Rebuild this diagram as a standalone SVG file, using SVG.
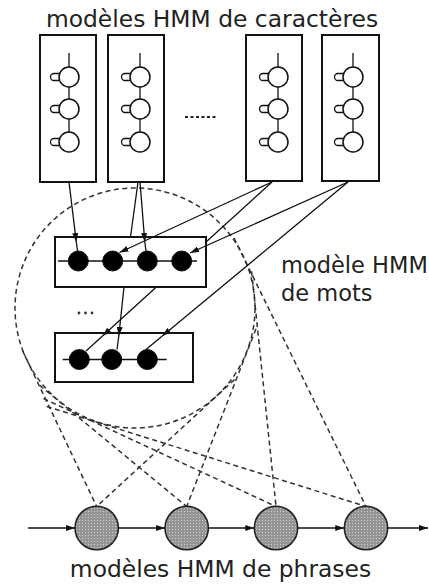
<svg xmlns="http://www.w3.org/2000/svg" xmlns:xlink="http://www.w3.org/1999/xlink" width="429" height="585" viewBox="0 0 429 585">
  <style>
    .lbl { font-family: "DejaVu Sans", "Liberation Sans", sans-serif; fill: #222; }
    .box { fill: #fff; stroke: #111; stroke-width: 2; }
    .ln { fill: none; stroke: #111; stroke-width: 1.3; }
    .arr { fill: none; stroke: #111; stroke-width: 1.3; marker-end: url(#ah); }
    .st { fill: #fff; stroke: #111; stroke-width: 1.5; }
    .wst { fill: #000; stroke: #111; stroke-width: 1; }
    .dash { fill: none; stroke: #333; stroke-width: 1.5; stroke-dasharray: 5 3.5; }
    .sst { fill: url(#stipple); stroke: #222; stroke-width: 1.6; }
    .dot { fill: #333; }
  </style>
  <defs>
    <marker id="ah" viewBox="0 0 10 10" refX="10" refY="5" markerWidth="9" markerHeight="6" orient="auto" markerUnits="userSpaceOnUse" preserveAspectRatio="none">
      <path d="M0,0 L10,5 L0,10 z" fill="#111"/>
    </marker>
    <pattern id="stipple" width="3" height="3" patternUnits="userSpaceOnUse">
      <rect width="3" height="3" fill="#959595"/>
      <rect x="1" y="1" width="1" height="1" fill="#cfcfcf"/>
    </pattern>
    <!-- three-state left-to-right character model, centred on x=0 -->
    <g id="charStates">
      <line class="ln" x1="0" y1="53" x2="0" y2="67"/>
      <line class="ln" x1="0" y1="87" x2="0" y2="99"/>
      <line class="ln" x1="0" y1="119" x2="0" y2="132"/>
      <circle class="st" cx="0" cy="77" r="10"/>
      <circle class="st" cx="0" cy="109" r="10"/>
      <circle class="st" cx="0" cy="142" r="10"/>
      <path class="ln" d="M-9.5,73.5 H-15 A3.5,3.5 0 0 0 -15,80.5 H-9.5"/>
      <path class="ln" d="M-9.5,105.5 H-15 A3.5,3.5 0 0 0 -15,112.5 H-9.5"/>
      <path class="ln" d="M-9.5,138.5 H-15 A3.5,3.5 0 0 0 -15,145.5 H-9.5"/>
    </g>
  </defs>

  <rect width="429" height="585" fill="#fff"/>

  <!-- titles -->
  <text class="lbl" x="212" y="27" font-size="23.4" text-anchor="middle">modèles HMM de caractères</text>
  <text class="lbl" x="281" y="273" font-size="22.5">modèle HMM</text>
  <text class="lbl" x="281" y="301" font-size="22.5">de mots</text>
  <text class="lbl" x="220.5" y="577" font-size="23.4" text-anchor="middle">modèles HMM de phrases</text>

  <!-- word-level grouping and its projection onto the sentence states -->
  <g id="word-scope">
    <circle class="dash" cx="135" cy="308" r="120"/>
    <line class="dash" x1="22.7" y1="351" x2="96.7" y2="506.5"/>
    <line class="dash" x1="234.5" y1="379.6" x2="96.7" y2="506.5"/>
    <line class="dash" x1="39.5" y1="385.2" x2="186.7" y2="506.5"/>
    <line class="dash" x1="256" y1="328.8" x2="186.7" y2="506.5"/>
    <line class="dash" x1="43.5" y1="398.6" x2="276" y2="506.5"/>
    <line class="dash" x1="251.6" y1="271.4" x2="276" y2="506.5"/>
    <line class="dash" x1="46.8" y1="406.5" x2="366" y2="506.5"/>
    <line class="dash" x1="233.9" y1="237.8" x2="366" y2="506.5"/>
  </g>

  <!-- character models -->
  <g id="char-hmm-1">
    <rect class="box" x="40" y="35" width="56" height="147"/>
    <use xlink:href="#charStates" transform="translate(69,0)"/>
  </g>
  <g id="char-hmm-2">
    <rect class="box" x="108" y="35" width="56" height="147"/>
    <use xlink:href="#charStates" transform="translate(140,0)"/>
  </g>
  <g id="char-ellipsis">
    <line x1="185" y1="117" x2="218" y2="117" stroke="#222" stroke-width="2" stroke-dasharray="3 2.5"/>
  </g>
  <g id="char-hmm-3">
    <rect class="box" x="246" y="35" width="56" height="146"/>
    <use xlink:href="#charStates" transform="translate(278,0)"/>
  </g>
  <g id="char-hmm-4">
    <rect class="box" x="322" y="35" width="57" height="146"/>
    <use xlink:href="#charStates" transform="translate(353,0)"/>
  </g>

  <!-- word models -->
  <g id="word-hmm-1">
    <rect class="box" x="55" y="237" width="151" height="50"/>
    <line class="ln" x1="58" y1="261" x2="197" y2="261"/>
    <circle class="wst" cx="78.3" cy="261" r="10"/>
    <circle class="wst" cx="112.7" cy="261" r="10"/>
    <circle class="wst" cx="147.3" cy="261" r="10"/>
    <circle class="wst" cx="181.7" cy="261" r="10"/>
  </g>
  <g id="word-ellipsis">
    <circle class="dot" cx="79" cy="313" r="1.4"/>
    <circle class="dot" cx="85.5" cy="313" r="1.4"/>
    <circle class="dot" cx="92" cy="313" r="1.4"/>
  </g>
  <g id="word-hmm-2">
    <rect class="box" x="55" y="333" width="138" height="49"/>
    <line class="ln" x1="62.7" y1="359.5" x2="166.7" y2="359.5"/>
    <circle class="wst" cx="79.3" cy="359.5" r="10"/>
    <circle class="wst" cx="111.7" cy="359.5" r="10"/>
    <circle class="wst" cx="147.3" cy="359.5" r="10"/>
  </g>

  <!-- sentence model -->
  <g id="sentence-states">
    <circle class="sst" cx="96.7" cy="528" r="21.7"/>
    <circle class="sst" cx="186.7" cy="528" r="21.7"/>
    <circle class="sst" cx="276" cy="528" r="21.7"/>
    <circle class="sst" cx="366" cy="528" r="21.7"/>
  </g>

  <!-- connectors -->
  <g id="connectors">
    <!-- characters into the first word -->
    <line class="arr" x1="69" y1="182" x2="76.3" y2="242"/>
    <line class="ln" x1="76.3" y1="242" x2="77.5" y2="251"/>
    <line class="arr" x1="140" y1="182" x2="144.8" y2="242"/>
    <line class="ln" x1="144.8" y1="242" x2="146" y2="251"/>
    <line class="arr" x1="272" y1="182" x2="119.5" y2="252.5"/>
    <line class="arr" x1="348" y1="182" x2="190" y2="253"/>
    <!-- characters into the second word (passing behind the first) -->
    <line class="ln" x1="138" y1="182" x2="130.5" y2="237"/>
    <line class="arr" x1="124" y1="287" x2="118.8" y2="336"/>
    <line class="ln" x1="118.8" y1="336" x2="117" y2="349.5"/>
    <line class="ln" x1="272" y1="182" x2="206" y2="242"/>
    <line class="arr" x1="156.4" y1="287" x2="102.5" y2="336"/>
    <line class="ln" x1="102.5" y1="336" x2="86" y2="351"/>
    <line class="arr" x1="348" y1="182" x2="162.3" y2="336"/>
    <line class="ln" x1="162.3" y1="336" x2="146" y2="349.5"/>
    <!-- sentence chain -->
    <line class="arr" x1="28" y1="528" x2="75" y2="528"/>
    <line class="arr" x1="118.4" y1="528" x2="165" y2="528"/>
    <line class="arr" x1="208.4" y1="528" x2="254.3" y2="528"/>
    <line class="arr" x1="297.7" y1="528" x2="344.3" y2="528"/>
    <line class="arr" x1="387.7" y1="528" x2="428" y2="528"/>
  </g>
</svg>
